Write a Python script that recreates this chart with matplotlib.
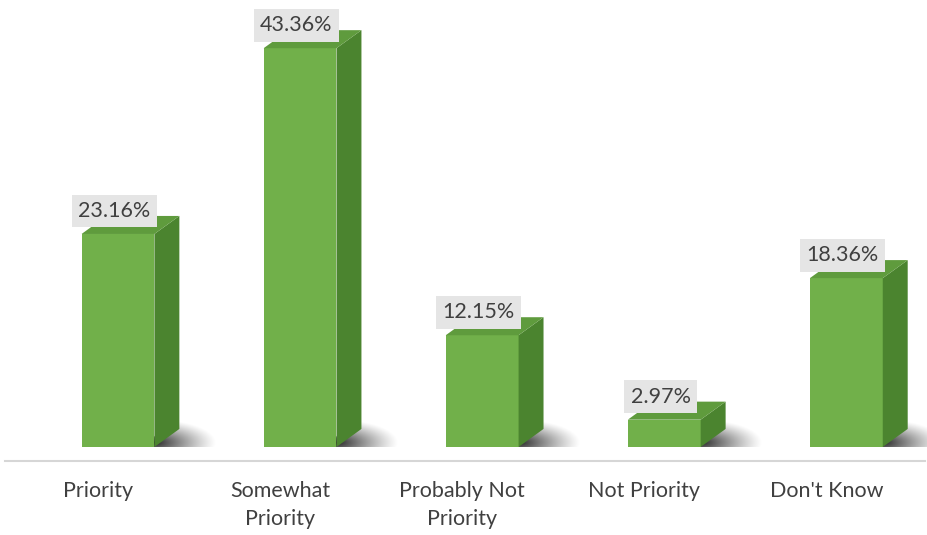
import matplotlib.pyplot as plt
from matplotlib.patches import Polygon
import numpy as np

categories = ['Priority', 'Somewhat\nPriority', 'Probably Not\nPriority', 'Not Priority', "Don't Know"]
values = [23.16, 43.36, 12.15, 2.97, 18.36]
labels = ['23.16%', '43.36%', '12.15%', '2.97%', '18.36%']

plt.rcParams['font.family'] = ['Lato', 'DejaVu Sans']

fig = plt.figure(figsize=(9.27, 5.35), dpi=100)
ax = fig.add_axes([0, 0, 1, 1])
ax.set_xlim(-0.648, 4.443)
ax.set_ylim(-9.57, 48.6)
ax.axis('off')

w = 0.40      # bar width
dx = 0.137    # depth offset x
dy = 1.96     # depth offset y
x = np.arange(len(values))

# soft shadow: elliptic alpha gradient to the right of each bar
sx, sy = 0.34, 3.0
gx, gy = np.meshgrid(np.linspace(0, 1, 80), np.linspace(0, 1, 40))
d = np.sqrt(((gx - 0.05) / 0.95) ** 2 + ((gy - 0.15) / 0.85) ** 2)
alpha = np.clip(1 - d, 0, 1) ** 1.2 * 0.85
shadow = np.zeros((40, 80, 4))
shadow[..., 3] = alpha
for i, v in zip(x, values):
    r = i + w/2
    im = ax.imshow(shadow, extent=(r - 0.02, r + sx, 0, sy), origin='lower',
                   aspect='auto', interpolation='bilinear', zorder=1)
    clip = Polygon([(r - 0.02, 0), (r + sx, 0), (r + sx, sy), (r + dx, sy), (r, dy * 0.6)],
                   closed=True, transform=ax.transData)
    im.set_clip_path(clip)

ax.bar(x, values, width=w, color='#71b04a', edgecolor='none', zorder=3)
for i, v in zip(x, values):
    side = [(i + w/2, 0), (i + w/2 + dx, dy), (i + w/2 + dx, v + dy), (i + w/2, v)]
    top = [(i - w/2, v), (i + w/2, v), (i + w/2 + dx, v + dy), (i - w/2 + dx, v + dy)]
    ax.add_patch(Polygon(side, closed=True, facecolor='#4b842f', edgecolor='none', zorder=3))
    ax.add_patch(Polygon(top, closed=True, facecolor='#5f9b3d', edgecolor='none', zorder=3))

for i, v, lab in zip(x, values, labels):
    ax.text(i - 0.02, v + 2.5, lab, ha='center', va='center', fontsize=15.5, color='#404040',
            zorder=5, bbox=dict(boxstyle='square,pad=0.3', facecolor='#e5e5e5', edgecolor='none'))

ax.plot([-0.62, 4.43], [-1.52, -1.52], color='#d6d6d6', lw=1.5, zorder=2)

for i, c in zip(x, categories):
    ax.text(i - 0.11, -3.7, c, ha='center', va='top', fontsize=15.5, color='#404040',
            linespacing=1.5)

ax.set_xlim(-0.648, 4.443)
ax.set_ylim(-9.57, 48.6)
fig.savefig('out.png', dpi=100)
